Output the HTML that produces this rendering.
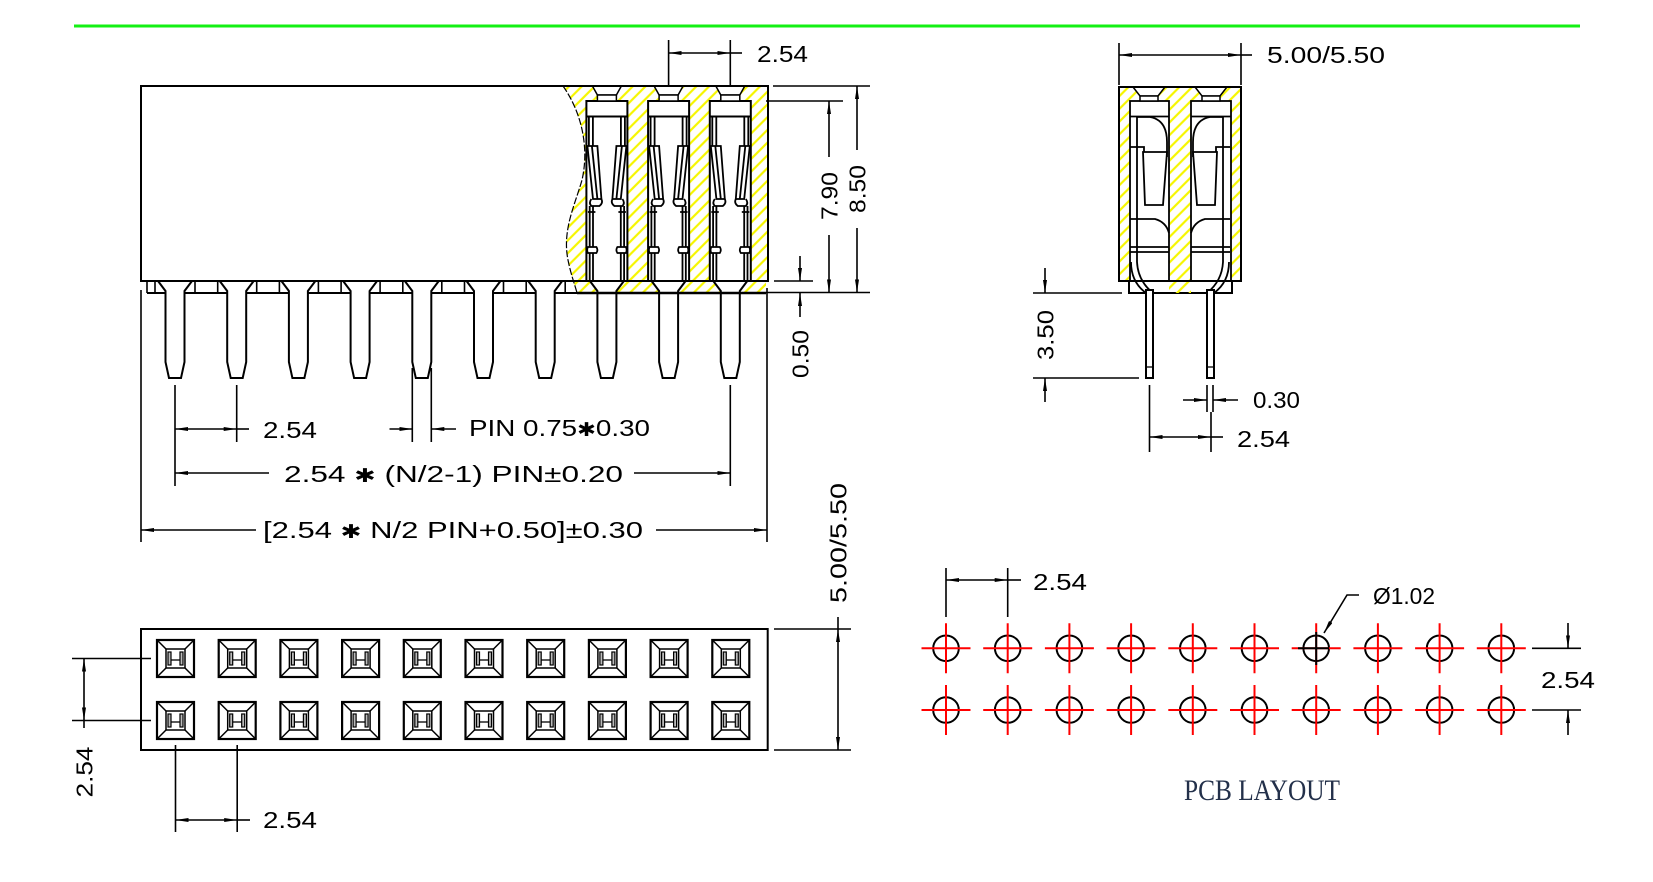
<!DOCTYPE html>
<html><head><meta charset="utf-8">
<style>
html,body{margin:0;padding:0;background:#fff;}
svg{display:block;}
text{font-family:"Liberation Sans","DejaVu Sans",sans-serif;font-size:23.5px;fill:#000;}
.ser{font-family:"Liberation Serif","DejaVu Serif",serif;font-size:30px;fill:#23304a;}
.ast{font-size:19px;}
</style></head><body>
<svg width="1653" height="882" viewBox="0 0 1653 882" xmlns="http://www.w3.org/2000/svg">
<defs>
<marker id="ar" viewBox="0 0 13 4" refX="13" refY="2" markerWidth="13" markerHeight="4" markerUnits="userSpaceOnUse" orient="auto-start-reverse"><path d="M0 0 L13 2 L0 4 Z" fill="#000"/></marker>
<pattern id="hat" width="9" height="9" patternUnits="userSpaceOnUse" patternTransform="rotate(45)"><line x1="4.5" y1="0" x2="4.5" y2="9" stroke="#f6f600" stroke-width="2.2"/></pattern>

<g id="fing" stroke="#000" fill="none" stroke-width="1.8">
  <path d="M2.5 116.5 V146 M6.5 116.5 V146"/>
  <path d="M1 146 H11 L15 199 H6.6 Z" fill="#fff"/>
  <path d="M5.5 146 L11 199"/>
  <path d="M5 199 Q2 203 5 206 H13 Q17 203 15 199"/>
  <path d="M3.3 206 V247 M6.6 206 V247 M1.5 212 H9"/>
  <path d="M1.5 247 Q0 250 1.5 253 H10 Q12 250 10 247 Z" fill="#fff"/>
  <path d="M3.3 253 V281 M6.6 253 V281"/>
</g>
<g id="cav" stroke="#000" fill="none">
  <rect x="0" y="101" width="41" height="180" fill="#fff" stroke-width="2"/>
  <path d="M6 86 L11 95 H30 L35 86 Z" fill="#fff" stroke-width="1.5"/>
  <rect x="11" y="95" width="19" height="6" fill="#fff" stroke-width="1.5"/>
  <line x1="0" y1="116.5" x2="41" y2="116.5" stroke-width="2"/>
  <use href="#fing"/>
  <use href="#fing" transform="translate(41 0) scale(-1 1)"/>
</g>
<g id="pin">
  <path d="M-17 281 L-9.5 291 V362 L-6 378 H6 L9.5 362 V291 L17 281" fill="#fff" stroke="#000" stroke-width="2"/>
</g>
<g id="sq" fill="none" stroke="#000">
  <rect x="-18.5" y="-18.5" width="37" height="37" stroke-width="2.2"/>
  <rect x="-9.5" y="-9.5" width="19" height="19" stroke-width="1.5"/>
  <path d="M-18.5 -18.5 L-9.5 -9.5 M18.5 -18.5 L9.5 -9.5 M-18.5 18.5 L-9.5 9.5 M18.5 18.5 L9.5 9.5" stroke-width="1.5"/>
  <rect x="-7.5" y="-6.5" width="3" height="13" fill="#bbb" stroke-width="1.2"/>
  <rect x="4.5" y="-6.5" width="3" height="13" fill="#bbb" stroke-width="1.2"/>
  <path d="M-4.5 1.5 H4.5" stroke-width="1.3"/>
</g>
<g id="h">
  <circle r="12.8" fill="none" stroke="#000" stroke-width="2"/>
  <path d="M-24.5 0 H24.5 M0 -25 V25" stroke="#f00" stroke-width="2"/>
</g>
<g id="sideL" stroke="#000" fill="none" stroke-width="1.8">
  <path d="M1137 117 V262 Q1138 281 1153 293"/>
  <path d="M1131 262 Q1131 282 1146 293"/>
  <path d="M1137 117 H1150 Q1167 120 1167 142 V157"/>
  <path d="M1130 147 H1144 V152"/>
  <path d="M1143 152 H1167 L1163 205 H1145 Z" fill="#fff"/>
  <path d="M1130 219 H1155 Q1166 222 1169 233"/>
  <path d="M1130 247 H1169 M1130 252 H1169"/>
  <rect x="1146" y="290" width="7" height="88" fill="#fff" stroke-width="2"/>
  <path d="M1146 367 H1153" stroke-width="1.3"/>
</g>
</defs>

<!-- green top line -->
<line x1="74" y1="26" x2="1580" y2="26" stroke="#14f014" stroke-width="3"/>

<!-- ================= FRONT VIEW ================= -->
<g stroke="#000" stroke-width="1.6" fill="none">
  <line x1="147" y1="293" x2="766" y2="293" stroke-width="2"/>
  <path d="M147 281 V293 M155 281 V293
    M195 281 V293 M217.7 281 V293
    M256.7 281 V293 M279.4 281 V293
    M318.4 281 V293 M341.1 281 V293
    M380.1 281 V293 M402.8 281 V293
    M441.8 281 V293 M464.5 281 V293
    M503.5 281 V293 M526.2 281 V293
    M565.2 281 V293"/>
</g>
<rect x="141" y="86" width="627" height="195" fill="#fff" stroke="#000" stroke-width="2"/>
<path d="M563 86 C580 110 590 145 582 180 C575 205 562 230 568 260 C571 275 575 285 577 293 L766 293 L766 281 L768 281 L768 86 Z" fill="url(#hat)"/>
<use href="#cav" x="586.4"/>
<use href="#cav" x="648.1"/>
<use href="#cav" x="709.8"/>
<path d="M563 86 C580 110 590 145 582 180 C575 205 562 230 568 260 C571 275 575 285 577 293" fill="none" stroke="#000" stroke-width="1.2" stroke-dasharray="7 2"/>
<line x1="141" y1="86" x2="768" y2="86" stroke="#000" stroke-width="2"/>
<line x1="768" y1="86" x2="768" y2="281" stroke="#000" stroke-width="2"/>
<use href="#pin" x="175"/>
<use href="#pin" x="236.7"/>
<use href="#pin" x="298.4"/>
<use href="#pin" x="360.1"/>
<use href="#pin" x="421.8"/>
<use href="#pin" x="483.5"/>
<use href="#pin" x="545.2"/>
<use href="#pin" x="606.9"/>
<use href="#pin" x="668.6"/>
<use href="#pin" x="730.3"/>
<line x1="141" y1="281" x2="768" y2="281" stroke="#000" stroke-width="2"/>
<line x1="577" y1="293" x2="766" y2="293" stroke="#000" stroke-width="2.4"/>

<g stroke="#000" stroke-width="1.6" fill="none">
  <path d="M668.6 40 V85 M730.3 40 V85"/>
  <line x1="668.6" y1="53" x2="730.3" y2="53" marker-start="url(#ar)" marker-end="url(#ar)"/>
  <line x1="730.3" y1="53" x2="742" y2="53"/>
  <line x1="773" y1="86" x2="870" y2="86"/>
  <line x1="766" y1="101" x2="843" y2="101"/>
  <line x1="766" y1="292.5" x2="870" y2="292.5"/>
  <line x1="774" y1="281" x2="813" y2="281"/>
  <line x1="829" y1="157" x2="829" y2="101" marker-end="url(#ar)"/>
  <line x1="829" y1="235" x2="829" y2="292.5" marker-end="url(#ar)"/>
  <line x1="857" y1="150" x2="857" y2="86" marker-end="url(#ar)"/>
  <line x1="857" y1="228" x2="857" y2="292.5" marker-end="url(#ar)"/>
  <line x1="800" y1="256" x2="800" y2="281" marker-end="url(#ar)"/>
  <line x1="800" y1="317" x2="800" y2="293" marker-end="url(#ar)"/>
  <line x1="767" y1="288" x2="767" y2="542"/>
  <line x1="141" y1="290" x2="141" y2="542"/>
  <line x1="256" y1="530" x2="141" y2="530" marker-end="url(#ar)"/>
  <line x1="656" y1="530" x2="767" y2="530" marker-end="url(#ar)"/>
  <line x1="269" y1="473" x2="175" y2="473" marker-end="url(#ar)"/>
  <line x1="634" y1="473" x2="730.3" y2="473" marker-end="url(#ar)"/>
  <path d="M175 385 V486 M236.7 385 V442 M730.3 385 V486"/>
  <line x1="175" y1="429" x2="236.7" y2="429" marker-start="url(#ar)" marker-end="url(#ar)"/>
  <line x1="236.7" y1="429" x2="249" y2="429"/>
  <path d="M412.3 368 V442 M431.3 368 V442"/>
  <line x1="389.5" y1="429" x2="412.3" y2="429" marker-end="url(#ar)"/>
  <line x1="456" y1="429" x2="431.3" y2="429" marker-end="url(#ar)"/>
</g>
<text x="757" y="62" textLength="51" lengthAdjust="spacingAndGlyphs">2.54</text>
<text transform="translate(829 196) rotate(-90)" x="-24" y="8.5" textLength="48" lengthAdjust="spacingAndGlyphs">7.90</text>
<text transform="translate(857 189) rotate(-90)" x="-24" y="8.5" textLength="48" lengthAdjust="spacingAndGlyphs">8.50</text>
<text transform="translate(800 354) rotate(-90)" x="-24" y="8.5" textLength="48" lengthAdjust="spacingAndGlyphs">0.50</text>
<text x="263" y="438" textLength="54" lengthAdjust="spacingAndGlyphs">2.54</text>
<text x="469" y="436" textLength="181" lengthAdjust="spacingAndGlyphs">PIN   0.75<tspan class="ast">✱</tspan>0.30</text>
<text x="284" y="482" textLength="339" lengthAdjust="spacingAndGlyphs">2.54  <tspan class="ast">✱</tspan>  (N/2-1)  PIN±0.20</text>
<text x="263" y="538" textLength="380" lengthAdjust="spacingAndGlyphs">[2.54  <tspan class="ast">✱</tspan>  N/2  PIN+0.50]±0.30</text>

<!-- ================= SIDE VIEW ================= -->
<rect x="1119" y="87" width="122" height="194" fill="url(#hat)"/>
<rect x="1129" y="281" width="103" height="12" fill="#fff" stroke="#000" stroke-width="2"/>
<rect x="1169" y="281" width="22" height="12" fill="url(#hat)"/>
<rect x="1130" y="101" width="39" height="180" fill="#fff" stroke="#000" stroke-width="1.8"/>
<rect x="1191" y="101" width="40" height="180" fill="#fff" stroke="#000" stroke-width="1.8"/>
<g stroke="#000" stroke-width="1.5" fill="#fff">
  <path d="M1133 87 L1140 96 H1158 L1165 87 Z"/>
  <rect x="1140" y="96" width="18" height="5"/>
  <path d="M1195 87 L1202 96 H1220 L1227 87 Z"/>
  <rect x="1202" y="96" width="18" height="5"/>
</g>
<g stroke="#000" stroke-width="1.8">
  <line x1="1130" y1="116.5" x2="1169" y2="116.5"/>
  <line x1="1191" y1="116.5" x2="1231" y2="116.5"/>
</g>
<use href="#sideL"/>
<use href="#sideL" transform="translate(2360 0) scale(-1 1)"/>
<rect x="1119" y="87" width="122" height="194" fill="none" stroke="#000" stroke-width="2"/>

<g stroke="#000" stroke-width="1.6" fill="none">
  <path d="M1119 43 V85 M1241 43 V85"/>
  <line x1="1119" y1="55" x2="1241" y2="55" marker-start="url(#ar)" marker-end="url(#ar)"/>
  <line x1="1241" y1="55" x2="1252" y2="55"/>
  <line x1="1033" y1="293" x2="1122" y2="293"/>
  <line x1="1033" y1="378" x2="1139" y2="378"/>
  <line x1="1045" y1="268" x2="1045" y2="293" marker-end="url(#ar)"/>
  <line x1="1045" y1="402" x2="1045" y2="378" marker-end="url(#ar)"/>
  <path d="M1207 385 V412 M1213 385 V412"/>
  <line x1="1183" y1="400" x2="1207" y2="400" marker-end="url(#ar)"/>
  <line x1="1238" y1="400" x2="1213" y2="400" marker-end="url(#ar)"/>
  <path d="M1149.5 385 V452 M1211 412 V452"/>
  <line x1="1149.5" y1="437" x2="1211" y2="437" marker-start="url(#ar)" marker-end="url(#ar)"/>
  <line x1="1211" y1="437" x2="1223" y2="437"/>
</g>
<text x="1267" y="63" textLength="118" lengthAdjust="spacingAndGlyphs">5.00/5.50</text>
<text transform="translate(1045 335) rotate(-90)" x="-25" y="8.5" textLength="50" lengthAdjust="spacingAndGlyphs">3.50</text>
<text x="1253" y="408" textLength="47" lengthAdjust="spacingAndGlyphs">0.30</text>
<text x="1237" y="447" textLength="53" lengthAdjust="spacingAndGlyphs">2.54</text>

<!-- ================= TOP VIEW ================= -->
<rect x="141" y="629" width="626.7" height="121" fill="#fff" stroke="#000" stroke-width="2"/>
<g>
  <use href="#sq" x="175.5" y="658.5"/><use href="#sq" x="237.2" y="658.5"/><use href="#sq" x="298.9" y="658.5"/><use href="#sq" x="360.6" y="658.5"/><use href="#sq" x="422.3" y="658.5"/>
  <use href="#sq" x="484" y="658.5"/><use href="#sq" x="545.7" y="658.5"/><use href="#sq" x="607.4" y="658.5"/><use href="#sq" x="669.1" y="658.5"/><use href="#sq" x="730.8" y="658.5"/>
  <use href="#sq" x="175.5" y="720.5"/><use href="#sq" x="237.2" y="720.5"/><use href="#sq" x="298.9" y="720.5"/><use href="#sq" x="360.6" y="720.5"/><use href="#sq" x="422.3" y="720.5"/>
  <use href="#sq" x="484" y="720.5"/><use href="#sq" x="545.7" y="720.5"/><use href="#sq" x="607.4" y="720.5"/><use href="#sq" x="669.1" y="720.5"/><use href="#sq" x="730.8" y="720.5"/>
</g>
<g stroke="#000" stroke-width="1.6" fill="none">
  <line x1="72" y1="658.5" x2="151" y2="658.5"/>
  <line x1="72" y1="720.5" x2="151" y2="720.5"/>
  <line x1="84" y1="658.5" x2="84" y2="720.5" marker-start="url(#ar)" marker-end="url(#ar)"/>
  <line x1="84" y1="720.5" x2="84" y2="728"/>
  <path d="M175.5 745 V832 M237.2 745 V832"/>
  <line x1="175.5" y1="820" x2="237.2" y2="820" marker-start="url(#ar)" marker-end="url(#ar)"/>
  <line x1="237.2" y1="820" x2="250" y2="820"/>
  <line x1="774" y1="629" x2="851" y2="629"/>
  <line x1="774" y1="750" x2="851" y2="750"/>
  <line x1="838" y1="629" x2="838" y2="750" marker-start="url(#ar)" marker-end="url(#ar)"/>
  <line x1="838" y1="617" x2="838" y2="629"/>
</g>
<text transform="translate(84 772) rotate(-90)" x="-25.5" y="8.5" textLength="51" lengthAdjust="spacingAndGlyphs">2.54</text>
<text x="263" y="828" textLength="54" lengthAdjust="spacingAndGlyphs">2.54</text>
<text transform="translate(838 543) rotate(-90)" x="-60" y="8.5" textLength="120" lengthAdjust="spacingAndGlyphs">5.00/5.50</text>

<!-- ================= PCB LAYOUT ================= -->
<g>
  <use href="#h" x="946" y="648.3"/><use href="#h" x="1007.7" y="648.3"/><use href="#h" x="1069.4" y="648.3"/><use href="#h" x="1131.1" y="648.3"/><use href="#h" x="1192.8" y="648.3"/>
  <use href="#h" x="1254.5" y="648.3"/><use href="#h" x="1316.2" y="648.3"/><use href="#h" x="1377.9" y="648.3"/><use href="#h" x="1439.6" y="648.3"/><use href="#h" x="1501.3" y="648.3"/>
  <use href="#h" x="946" y="710"/><use href="#h" x="1007.7" y="710"/><use href="#h" x="1069.4" y="710"/><use href="#h" x="1131.1" y="710"/><use href="#h" x="1192.8" y="710"/>
  <use href="#h" x="1254.5" y="710"/><use href="#h" x="1316.2" y="710"/><use href="#h" x="1377.9" y="710"/><use href="#h" x="1439.6" y="710"/><use href="#h" x="1501.3" y="710"/>
</g>
<path d="M1298 648.3 H1329 M1316.2 632 V665" stroke="#000" stroke-width="2" fill="none"/>
<g stroke="#000" stroke-width="1.6" fill="none">
  <path d="M946 568 V617 M1007.7 568 V617"/>
  <line x1="946" y1="580" x2="1007.7" y2="580" marker-start="url(#ar)" marker-end="url(#ar)"/>
  <line x1="1007.7" y1="580" x2="1021" y2="580"/>
  <path d="M1359 595 H1347 L1324 633" marker-end="url(#ar)"/>
  <line x1="1532" y1="648.3" x2="1581" y2="648.3"/>
  <line x1="1532" y1="710" x2="1581" y2="710"/>
  <line x1="1568" y1="623" x2="1568" y2="648.3" marker-end="url(#ar)"/>
  <line x1="1568" y1="735" x2="1568" y2="710" marker-end="url(#ar)"/>
</g>
<text x="1033" y="590" textLength="54" lengthAdjust="spacingAndGlyphs">2.54</text>
<text x="1373" y="604" textLength="62" lengthAdjust="spacingAndGlyphs">Ø1.02</text>
<text x="1541" y="688" textLength="54" lengthAdjust="spacingAndGlyphs">2.54</text>
<text class="ser" x="1184" y="800" textLength="156" lengthAdjust="spacingAndGlyphs">PCB  LAYOUT</text>
</svg>
</body></html>
